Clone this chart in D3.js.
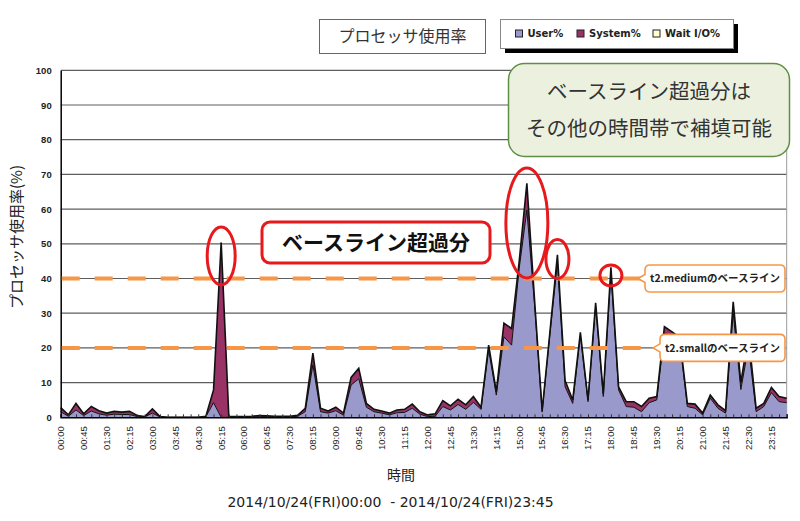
<!DOCTYPE html>
<html lang="ja">
<head>
	<meta charset="utf-8">
	<title>プロセッサ使用率</title>
	<script src="https://d3js.org/d3.v7.min.js" charset="utf-8"></script>
	<style>
		body {
			margin: 0;
			background: #ffffff;
			font-family: 'Noto Sans CJK JP', 'Noto Sans', sans-serif;
		}
		.narrow {
			font-family: 'Liberation Sans Narrow', 'Arial Narrow', 'Liberation Sans', sans-serif;
			font-size: 9.5px;
			fill: #222;
		}
	</style>
</head>
<body>
	<div id="chart"></div>
	<script>
	// series (15 minute samples, 00:00 - 23:45)
	var userPct = [1.6,0.3,2.1,0.5,1.8,1.0,0.6,0.9,0.8,0.8,0.2,0.1,1.2,0.1,0,0,0,0,0,0.2,
		4.2,0,0,0.1,0.1,0.1,0.2,0.2,0.1,0.1,0.1,0.3,1.6,15.1,1.6,1.2,1.9,0.6,9.3,11.1,
		2.9,1.6,1.2,0.7,1.3,1.4,2.6,0.9,0.2,0.3,3.1,2.1,3.7,2.3,4.3,2.3,19.4,6.4,23.2,20.8,
		43.0,59.7,32.5,1.5,23.5,44.5,8.8,4.0,23.5,4.5,31.9,6.0,41.5,7.9,3.1,2.9,1.6,4.2,5.0,24.2,
		23.2,21.8,3.1,2.6,0.7,5.5,2.6,1.2,30.0,8.0,20.4,1.6,3.1,7.1,4.5,4.2];
	var systemPct = [1.2,0.4,1.9,0.5,1.3,0.9,0.6,0.8,0.7,0.9,0.3,0.1,1.2,0.1,0,0,0,0,0,0.1,
		3.7,50.4,0.2,0.1,0.1,0.2,0.3,0.2,0.2,0.2,0.2,0.3,1.0,3.4,1.0,0.6,1.0,0.6,2.2,3.0,
		1.1,0.7,0.6,0.5,0.8,0.9,1.2,0.7,0.5,0.7,1.7,1.2,1.5,1.3,1.7,0.6,1.4,1.0,3.9,4.8,
		2.0,7.7,1.5,0.4,0.7,2.3,1.8,1.0,1.0,0.5,1.1,0.7,1.7,0.9,1.4,1.6,1.5,1.3,1.0,1.9,
		1.4,1.2,0.9,1.2,0.5,0.9,1.0,0.7,3.3,2.0,3.3,1.0,0.9,1.5,1.5,1.3];
	var waitPct = userPct.map(function() { return 0; });

	var seriesNames = ["User%", "System%", "Wait I/O%"];
	var seriesColors = ["#9999cc", "#993366", "#ffffcc"];

	var tickLabels = ["00:00","00:45","01:30","02:15","03:00","03:45","04:30","05:15",
		"06:00","06:45","07:30","08:15","09:00","09:45","10:30","11:15",
		"12:00","12:45","13:30","14:15","15:00","15:45","16:30","17:15",
		"18:00","18:45","19:30","20:15","21:00","21:45","22:30","23:15"];
	var yTicks = [0,10,20,30,40,50,60,70,80,90,100];

	// baselines and highlighted peaks
	var baselines = [
		{ value: 40, label: "t2.mediumのベースライン" },
		{ value: 20, label: "t2.smallのベースライン" }
	];
	var peakIdx = [21, 61, 65, 72];

	var categories = d3.range(userPct.length).map(function(i) {
		var m = i * 15;
		return d3.format("02")(Math.floor(m / 60)) + ":" + d3.format("02")(m % 60);
	});

	var rows = categories.map(function(c, i) {
		return { time: c, "User%": userPct[i], "System%": systemPct[i], "Wait I/O%": waitPct[i] };
	});

	var width = 800, height = 521;
	var margin = { left: 60.7, right: 13, top: 70.3, bottom: 103.7 };

	var svg = d3.select("#chart").append("svg")
		.attr("width", width)
		.attr("height", height);

	var x = d3.scalePoint()
		.domain(categories)
		.range([margin.left, width - margin.right - 0.3]);

	var y = d3.scaleLinear()
		.domain([0, 100])
		.range([height - margin.bottom, margin.top]);

	// gridlines
	svg.append("g")
		.selectAll("line")
		.data(yTicks.slice(1))
		.join("line")
		.attr("x1", margin.left).attr("x2", x.range()[1])
		.attr("y1", function(d) { return y(d); })
		.attr("y2", function(d) { return y(d); })
		.attr("stroke", "#5e5e5e")
		.attr("stroke-width", 1.2);

	svg.append("line")
		.attr("x1", x.range()[1]).attr("x2", x.range()[1])
		.attr("y1", y(100)).attr("y2", y(0))
		.attr("stroke", "#9a9a9a");

	// stacked areas
	var stack = d3.stack().keys(seriesNames);
	var layers = stack(rows);

	var area = d3.area()
		.x(function(d) { return x(d.data.time); })
		.y0(function(d) { return y(d[0]); })
		.y1(function(d) { return y(d[1]); });

	var topLine = d3.line()
		.x(function(d) { return x(d.data.time); })
		.y(function(d) { return y(d[1]); });

	svg.append("g")
		.selectAll("path")
		.data(layers)
		.join("path")
		.attr("d", area)
		.attr("fill", function(d, i) { return seriesColors[i]; });

	svg.append("g")
		.selectAll("path")
		.data(layers.slice(0, 2))
		.join("path")
		.attr("d", topLine)
		.attr("fill", "none")
		.attr("stroke", "#111")
		.attr("stroke-width", function(d, i) { return i == 0 ? 1 : 1.6; })
		.attr("stroke-linejoin", "miter");

	// axes
	var xAxis = svg.append("g")
		.attr("transform", "translate(0," + y(0) + ")")
		.call(d3.axisBottom(x).tickValues(categories).tickSize(-3).tickFormat(""));
	xAxis.select(".domain").attr("stroke", "#000").attr("stroke-width", 1.5);
	xAxis.selectAll(".tick line").attr("stroke", "#333");

	svg.append("g")
		.selectAll("text")
		.data(tickLabels)
		.join("text")
		.attr("class", "narrow")
		.attr("transform", function(d) { return "translate(" + x(d) + "," + (y(0) + 9) + ") rotate(-90)"; })
		.attr("text-anchor", "end")
		.attr("dy", "0.35em")
		.text(function(d) { return d; });

	var yAxis = svg.append("g")
		.attr("transform", "translate(" + margin.left + ",0)")
		.call(d3.axisLeft(y).tickValues(yTicks).tickSize(0).tickPadding(9));
	yAxis.select(".domain").attr("stroke", "#000").attr("stroke-width", 1.5);
	yAxis.selectAll("text").attr("class", "narrow").attr("font-size", null).attr("font-family", null)
		.attr("font-weight", "bold");

	// dashed baselines
	svg.append("g")
		.selectAll("line")
		.data(baselines)
		.join("line")
		.attr("x1", margin.left + 1).attr("x2", 643)
		.attr("y1", function(d) { return y(d.value); })
		.attr("y2", function(d) { return y(d.value); })
		.attr("stroke", "#f79646")
		.attr("stroke-width", 4)
		.attr("stroke-dasharray", "18,15");

	// red ellipses round the peaks
	var ellipseSize = [[14, 29], [21, 55], [11.5, 19.5], [11, 10.5]];
	svg.append("g")
		.selectAll("ellipse")
		.data(peakIdx)
		.join("ellipse")
		.attr("cx", function(d) { return x(categories[d]); })
		.attr("cy", function(d, i) { return y(userPct[d] + systemPct[d]) + ellipseSize[i][1] - 15.5 + (i == 3 ? 13 : 0); })
		.attr("rx", function(d, i) { return ellipseSize[i][0]; })
		.attr("ry", function(d, i) { return ellipseSize[i][1]; })
		.attr("fill", "none")
		.attr("stroke", "#e8191c")
		.attr("stroke-width", 3);

	// orange callouts for baselines
	var callout = svg.append("g")
		.selectAll("g")
		.data(baselines)
		.join("g")
		.attr("transform", function(d, i) { return "translate(" + (i == 0 ? 645 : 660) + "," + y(d.value) + ")"; });

	callout.append("path")
		.attr("d", function(d, i) {
			var w = i == 0 ? 140 : 125, h = 27, r = 5;
			return "M" + r + "," + (-h / 2) + "H" + (w - r) + "Q" + w + "," + (-h / 2) + " " + w + "," + (-h / 2 + r)
				+ "V" + (h / 2 - r) + "Q" + w + "," + (h / 2) + " " + (w - r) + "," + (h / 2)
				+ "H" + r + "Q0," + (h / 2) + " 0," + (h / 2 - r) + "V4L-7,0L0,-4V" + (-h / 2 + r)
				+ "Q0," + (-h / 2) + " " + r + "," + (-h / 2) + "Z";
		})
		.attr("fill", "#fff")
		.attr("stroke", "#f79646")
		.attr("stroke-width", 1.6);

	callout.append("text")
		.attr("x", function(d, i) { return i == 0 ? 70 : 62.5; })
		.attr("dy", "0.36em")
		.attr("text-anchor", "middle")
		.attr("font-size", 10.5)
		.attr("font-weight", "bold")
		.attr("fill", "#222")
		.text(function(d) { return d.label; });

	// red callout
	svg.append("rect")
		.attr("x", 262).attr("y", 222)
		.attr("width", 228).attr("height", 41)
		.attr("rx", 8)
		.attr("fill", "#fff")
		.attr("stroke", "#e8191c")
		.attr("stroke-width", 3);
	svg.append("text")
		.attr("x", 376).attr("y", 242.5)
		.attr("dy", "0.36em")
		.attr("text-anchor", "middle")
		.attr("font-size", 21)
		.attr("font-weight", "bold")
		.attr("fill", "#111")
		.text("ベースライン超過分");

	// green note
	svg.append("rect")
		.attr("x", 508.5).attr("y", 63.5)
		.attr("width", 281).attr("height", 93)
		.attr("rx", 16)
		.attr("fill", "#ebf1de")
		.attr("stroke", "#5f8f45")
		.attr("stroke-width", 1.5);
	svg.append("g")
		.selectAll("text")
		.data(["ベースライン超過分は", "その他の時間帯で補填可能"])
		.join("text")
		.attr("x", 649)
		.attr("y", function(d, i) { return 92 + i * 36.5; })
		.attr("dy", "0.36em")
		.attr("text-anchor", "middle")
		.attr("font-size", 20.5)
		.attr("fill", "#333")
		.text(function(d) { return d; });

	// title box
	svg.append("rect")
		.attr("x", 319.5).attr("y", 19.5)
		.attr("width", 166).attr("height", 34)
		.attr("fill", "#fff")
		.attr("stroke", "#666");
	svg.append("text")
		.attr("x", 402.5).attr("y", 36.5)
		.attr("dy", "0.36em")
		.attr("text-anchor", "middle")
		.attr("font-size", 16)
		.attr("fill", "#333")
		.text("プロセッサ使用率");

	// legend
	svg.append("rect")
		.attr("x", 505).attr("y", 24)
		.attr("width", 233).attr("height", 29)
		.attr("fill", "#000");
	svg.append("rect")
		.attr("x", 500.5).attr("y", 19.5)
		.attr("width", 233).attr("height", 29)
		.attr("fill", "#fff")
		.attr("stroke", "#888");
	var legendX = [515, 576.5, 652.5];
	var legend = svg.append("g")
		.selectAll("g")
		.data(seriesNames)
		.join("g")
		.attr("transform", function(d, i) { return "translate(" + legendX[i] + ",33.5)"; });
	legend.append("rect")
		.attr("x", 0.5).attr("y", -3.5)
		.attr("width", 7).attr("height", 7)
		.attr("fill", function(d, i) { return seriesColors[i]; })
		.attr("stroke", "#222");
	legend.append("text")
		.attr("x", 12.5)
		.attr("dy", "0.35em")
		.attr("font-family", "'DejaVu Sans', Verdana, sans-serif")
		.attr("font-size", 10)
		.attr("font-weight", "bold")
		.attr("fill", "#222")
		.text(function(d) { return d; });

	// axis titles
	svg.append("text")
		.attr("transform", "translate(17,237) rotate(-90)")
		.attr("dy", "0.36em")
		.attr("text-anchor", "middle")
		.attr("font-size", 15)
		.attr("fill", "#222")
		.text("プロセッサ使用率(%)");

	svg.append("text")
		.attr("x", 401).attr("y", 475)
		.attr("dy", "0.36em")
		.attr("text-anchor", "middle")
		.attr("font-size", 14)
		.attr("fill", "#222")
		.text("時間");

	svg.append("text")
		.attr("x", 390.5).attr("y", 502)
		.attr("dy", "0.36em")
		.attr("text-anchor", "middle")
		.attr("font-family", "'DejaVu Sans', Verdana, sans-serif")
		.attr("font-size", 14)
		.attr("fill", "#222")
		.attr("xml:space", "preserve")
		.style("white-space", "pre")
		.text("2014/10/24(FRI)00:00  - 2014/10/24(FRI)23:45");
	</script>
</body>
</html>
